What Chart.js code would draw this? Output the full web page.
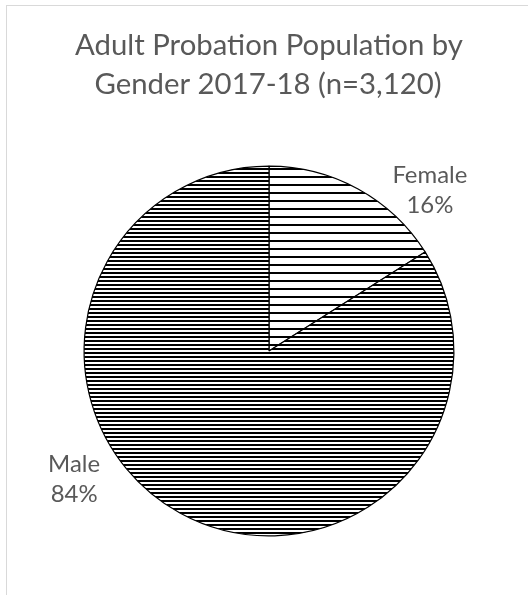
<!DOCTYPE html>
<html>
<head>
<meta charset="utf-8">
<script src="https://cdn.jsdelivr.net/npm/chart.js@4/dist/chart.umd.min.js"></script>
<style>
  html, body { margin: 0; padding: 0; background: #ffffff; }
  #wrap { position: relative; width: 528px; height: 595px; overflow: hidden; }
  #frame { position: absolute; left: 6px; top: 5px; width: 600px; height: 700px; border: 1px solid #d9d9d9; box-sizing: border-box; }
  #c { position: absolute; left: 0; top: 0; }
</style>
</head>
<body>
<div id="wrap">
  <div id="frame"></div>
  <canvas id="c" width="528" height="595"></canvas>
</div>
<script>
// ---- data ----
const titleLines = ['Adult Probation Population by', 'Gender 2017-18 (n=3,120)'];
const categories = ['Female', 'Male'];
const percentValues = [16, 84];
const valueLabels = ['16%', '84%'];

// ---- styling helpers ----
const FAMILY = 'Lato, "Open Sans", "Liberation Sans", sans-serif';
const TEXT_COLOR = '#595959';

function fitSize(text, target) {
  const m = document.createElement('canvas').getContext('2d');
  m.font = '100px ' + FAMILY;
  return 100 * target / m.measureText(text).width;
}
const titleSize = fitSize(titleLines[0], 388);
const labelSize = fitSize(categories[0], 75);

function makeStripe(period, lineW) {
  const t = document.createElement('canvas');
  t.width = 8; t.height = period;
  const g = t.getContext('2d');
  g.fillStyle = '#ffffff';
  g.fillRect(0, 0, 8, period);
  g.fillStyle = '#000000';
  g.fillRect(0, 0, 8, lineW);
  return g.createPattern(t, 'repeat');
}
const ctx0 = document.getElementById('c').getContext('2d');
const fills = [makeStripe(8, 2), makeStripe(4, 2)];

// label placement relative to pie centre, in units of the radius
const labelOffsets = [[0.870, -0.878], [-1.054, 0.686]];

const textPlugin = {
  id: 'textPlugin',
  afterDraw(chart) {
    const ctx = chart.ctx;
    ctx.save();
    ctx.fillStyle = TEXT_COLOR;
    ctx.textAlign = 'center';
    ctx.textBaseline = 'alphabetic';
    // title
    ctx.font = titleSize + 'px ' + FAMILY;
    const cx = (chart.chartArea.left + chart.chartArea.right) / 2;
    ctx.fillText(titleLines[0], cx, 55);
    ctx.fillText(titleLines[1], cx - 1, 94);
    // data labels
    ctx.font = labelSize + 'px ' + FAMILY;
    const meta = chart.getDatasetMeta(0);
    meta.data.forEach((arc, i) => {
      const r = arc.outerRadius;
      const x = arc.x + labelOffsets[i][0] * r;
      const y = arc.y + labelOffsets[i][1] * r;
      ctx.fillText(categories[i], x, y - 6);
      ctx.fillText(valueLabels[i], x, y + 24);
    });
    ctx.restore();
  }
};

new Chart(ctx0, {
  type: 'pie',
  data: {
    labels: categories,
    datasets: [{
      data: percentValues,
      backgroundColor: fills,
      borderColor: '#000000',
      borderWidth: 1.2
    }]
  },
  options: {
    responsive: false,
    animation: false,
    layout: { padding: { left: 83.5, right: 73.5, top: 165.5, bottom: 58.5 } },
    plugins: {
      legend: { display: false },
      tooltip: { enabled: false },
      title: { display: false }
    }
  },
  plugins: [textPlugin]
});
</script>
</body>
</html>
